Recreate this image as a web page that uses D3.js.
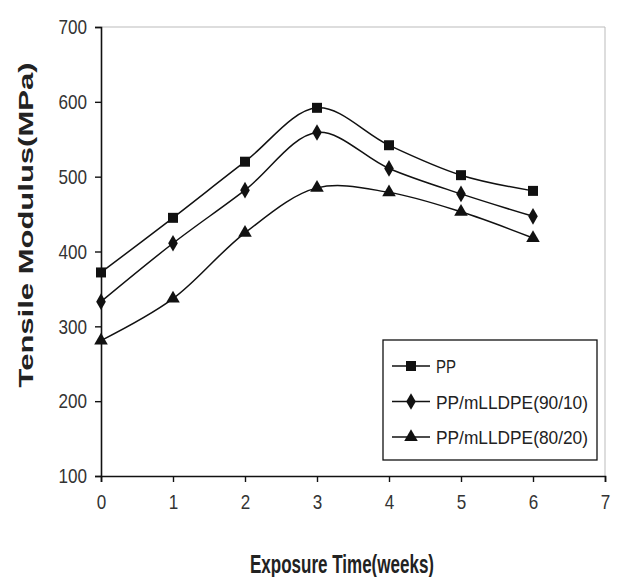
<!DOCTYPE html>
<html>
<head>
<meta charset="utf-8">
<script src="https://cdn.jsdelivr.net/npm/d3@7"></script>
<style>
  body { margin: 0; background: #fff; }
  text { font-family: "Liberation Sans", Arial, sans-serif; }
</style>
</head>
<body>
<div class="chart"></div>
<script>
// exposure weeks
var weeks = [0, 1, 2, 3, 4, 5, 6];
var seriesNames = ["PP", "PP/mLLDPE(90/10)", "PP/mLLDPE(80/20)"];
var ppVals = [372, 445, 520, 592, 542, 502, 481];
var pp9010Vals = [333, 411, 482, 559, 511, 477, 447];
var pp8020Vals = [281, 337, 425, 485, 479, 453, 418];
var yTicks = [100, 200, 300, 400, 500, 600, 700];
var xTicks = [0, 1, 2, 3, 4, 5, 6, 7];

var W = 617, H = 577;
var margin = {left: 101, right: 12, top: 27, bottom: 101};

var svg = d3.select(".chart").append("svg")
    .attr("width", W)
    .attr("height", H);

var x = d3.scaleLinear().domain([0, 7]).range([margin.left, W - margin.right]);
var y = d3.scaleLinear().domain([100, 700]).range([H - margin.bottom, margin.top]);

// plot area border (light, top & right)
svg.append("path")
    .attr("d", "M" + x(0) + "," + y(700) + "H" + x(7) + "V" + y(100))
    .attr("fill", "none")
    .attr("stroke", "#bbb")
    .attr("stroke-width", 1);

var yAxis = svg.append("g")
    .attr("transform", "translate(" + x(0) + ",0)")
    .call(d3.axisLeft(y).tickValues(yTicks).tickSize(6).tickPadding(8));
var xAxis = svg.append("g")
    .attr("transform", "translate(0," + y(100) + ")")
    .call(d3.axisBottom(x).tickValues(xTicks).tickFormat(d3.format("d")).tickSize(6).tickPadding(12));

[xAxis, yAxis].forEach(function(g) {
    g.select(".domain").attr("stroke", "#111").attr("stroke-width", 1.6);
    g.selectAll(".tick line").attr("stroke", "#111").attr("stroke-width", 1.4);
    g.selectAll(".tick text")
        .attr("font-size", 21)
        .attr("fill", "#333")
        .attr("textLength", function(d) { return String(d).length * 9.5; })
        .attr("lengthAdjust", "spacingAndGlyphs");
});

var series = [
    {name: seriesNames[0], vals: ppVals, sym: d3.symbolSquare, size: 100},
    {name: seriesNames[1], vals: pp9010Vals, sym: d3.symbolDiamond, size: 80},
    {name: seriesNames[2], vals: pp8020Vals, sym: d3.symbolTriangle, size: 80}
];

var line = d3.line()
    .x(function(d, i) { return x(weeks[i]); })
    .y(function(d) { return y(d); })
    .curve(d3.curveCatmullRom.alpha(0.5));

series.forEach(function(s) {
    svg.append("path")
        .attr("d", line(s.vals))
        .attr("fill", "none")
        .attr("stroke", "#111")
        .attr("stroke-width", 1.5);
    svg.selectAll(null)
        .data(s.vals).enter()
        .append("path")
        .attr("d", d3.symbol().type(s.sym).size(s.size))
        .attr("transform", function(d, i) { return "translate(" + x(weeks[i]) + "," + y(d) + ")"; })
        .attr("fill", "#111");
});

// legend
var lg = svg.append("g").attr("transform", "translate(383,340)");
lg.append("rect")
    .attr("width", 214).attr("height", 120)
    .attr("fill", "#fff").attr("stroke", "#111").attr("stroke-width", 1.3);
series.forEach(function(s, i) {
    var ly = 26 + i * 35.5;
    lg.append("line")
        .attr("x1", 9).attr("x2", 47).attr("y1", ly).attr("y2", ly)
        .attr("stroke", "#111").attr("stroke-width", 1.5);
    lg.append("path")
        .attr("d", d3.symbol().type(s.sym).size(s.size))
        .attr("transform", "translate(28," + ly + ")")
        .attr("fill", "#111");
    var t = lg.append("text")
        .attr("x", 53).attr("y", ly + 7)
        .attr("font-size", 19)
        .attr("fill", "#222")
        .text(s.name);
    if (s.name.length > 2) t.attr("textLength", 152).attr("lengthAdjust", "spacingAndGlyphs");
    else t.attr("textLength", 20).attr("lengthAdjust", "spacingAndGlyphs");
});

// axis titles
svg.append("text")
    .attr("x", 342)
    .attr("y", 573)
    .attr("text-anchor", "middle")
    .attr("font-size", 25)
    .attr("font-weight", "bold")
    .attr("fill", "#222")
    .attr("textLength", 184)
    .attr("lengthAdjust", "spacingAndGlyphs")
    .text("Exposure Time(weeks)");

svg.append("text")
    .attr("transform", "translate(33," + 225 + ") rotate(-90)")
    .attr("text-anchor", "middle")
    .attr("font-size", 21)
    .attr("font-weight", "bold")
    .attr("fill", "#222")
    .attr("textLength", 325)
    .attr("lengthAdjust", "spacingAndGlyphs")
    .text("Tensile Modulus(MPa)");
</script>
</body>
</html>
